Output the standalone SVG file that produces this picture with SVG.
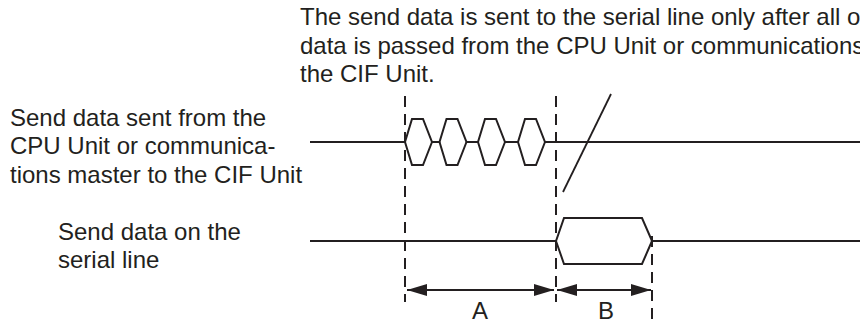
<svg xmlns="http://www.w3.org/2000/svg" width="860" height="322" viewBox="0 0 860 322">
<defs>
<style>
text{font-family:"Liberation Sans",Arial,sans-serif;font-size:24px;fill:#231f20}
.sig{fill:none;stroke:#231f20;stroke-width:2;stroke-linejoin:miter}
.dash{fill:none;stroke:#231f20;stroke-width:2;stroke-dasharray:11 7}
.dim{fill:none;stroke:#231f20;stroke-width:2}
.thin{fill:none;stroke:#231f20;stroke-width:1.8}
</style>
<marker id="ah" viewBox="0 0 20 12" refX="20" refY="6" markerWidth="20" markerHeight="12" markerUnits="userSpaceOnUse" orient="auto-start-reverse">
<path d="M0,0 L20,6 L0,12 Z" fill="#231f20"/>
</marker>
</defs>
<rect width="860" height="322" fill="#fff"/>
<g id="note">
<text x="300" y="25">The send data is sent to the serial line only after all o</text>
<text x="300" y="54">data is passed from the CPU Unit or communications</text>
<text x="300" y="82">the CIF Unit.</text>
</g>
<g id="label-cif">
<text x="10" y="126">Send data sent from the</text>
<text x="10" y="154">CPU Unit or communica-</text>
<text x="10" y="183">tions master to the CIF Unit</text>
</g>
<g id="label-serial">
<text x="58" y="240">Send data on the</text>
<text x="58" y="268">serial line</text>
</g>
<g id="signal-cif">
<path class="sig" d="M310,142 H405 L412,119 H423 L432,142 H439.5 L446.5,119 H457.5 L466.5,142 H478 L485,119 H496 L505,142 H518 L525,119 H536 L545,142 H860"/>
<path class="sig" d="M405,142 L412,165 H423 L432,142 M439.5,142 L446.5,165 H457.5 L466.5,142 M478,142 L485,165 H496 L505,142 M518,142 L525,165 H536 L545,142"/>
</g>
<g id="signal-serial">
<path class="sig" d="M310,241 H556 L564,218 H642 L652,241 H860"/>
<path class="sig" d="M556,241 L564,264 H642 L652,241"/>
</g>
<g id="connectors">
<line class="dash" x1="405" y1="96" x2="405" y2="302"/>
<line class="dash" x1="556" y1="96" x2="556" y2="302"/>
<line class="dash" x1="652" y1="236" x2="652" y2="322"/>
<line class="thin" x1="563" y1="192" x2="611" y2="94"/>
<line class="dim" x1="407" y1="290" x2="554" y2="290" marker-start="url(#ah)" marker-end="url(#ah)"/>
<line class="dim" x1="557" y1="290" x2="651" y2="290" marker-start="url(#ah)" marker-end="url(#ah)"/>
</g>
<g id="dim-labels">
<text x="480" y="319" text-anchor="middle">A</text>
<text x="606" y="319" text-anchor="middle">B</text>
</g>
</svg>
